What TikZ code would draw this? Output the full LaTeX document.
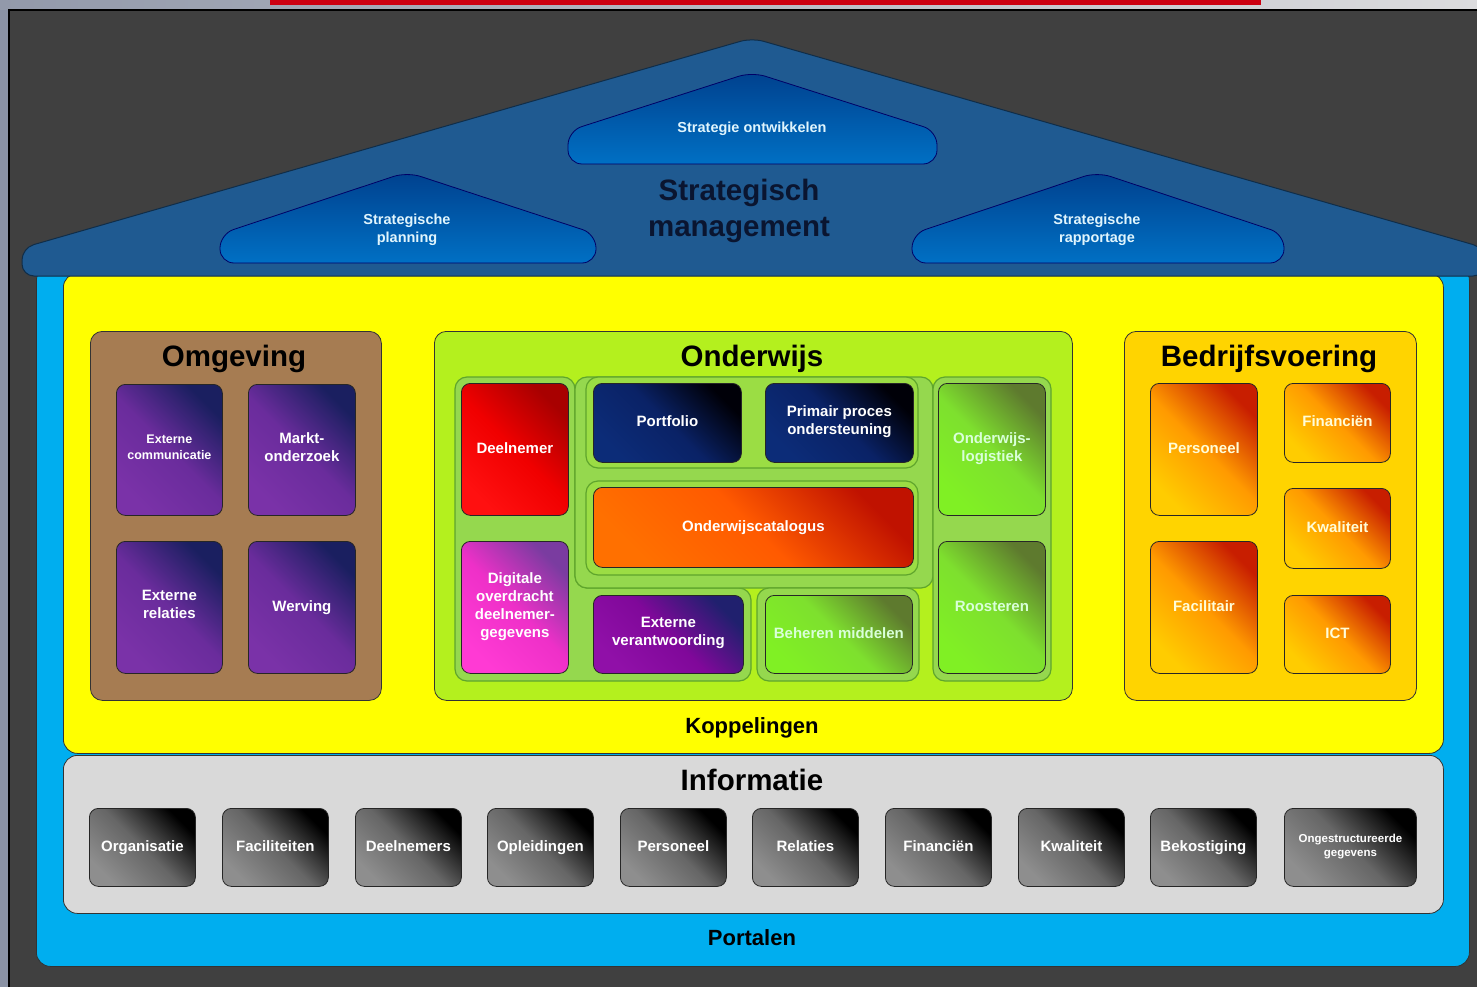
\documentclass[tikz,border=0pt]{standalone}
\usepackage{fontspec}
\setmainfont{Liberation Sans}
\definecolor{bgdark}{HTML}{404040}
\definecolor{redbar}{HTML}{CC0011}
\definecolor{roofblue}{HTML}{1F5A91}
\definecolor{tribluetop}{HTML}{00418E}
\definecolor{tribluebot}{HTML}{0070C4}
\definecolor{portal}{HTML}{00AEEF}
\definecolor{koppel}{HTML}{FFFF00}
\definecolor{infogray}{HTML}{D9D9D9}
\definecolor{omgfill}{HTML}{A67C52}
\definecolor{ondfill}{HTML}{B4F01E}
\definecolor{bedfill}{HTML}{FFD400}
\definecolor{grpfill}{HTML}{95D84E}
\definecolor{grpline}{HTML}{5FA52C}
\definecolor{mgmt}{HTML}{0A1530}
\definecolor{stripL}{HTML}{8A92A4}
\definecolor{stripA}{HTML}{9299AA}
\definecolor{stripB}{HTML}{DCDCDE}
\definecolor{purT}{HTML}{1A1F60}\definecolor{purB}{HTML}{7A32A8}\definecolor{purM}{HTML}{6A2C9C}
\definecolor{orT}{HTML}{C81E00}\definecolor{orB}{HTML}{FFCC00}\definecolor{orM}{HTML}{FF9A00}
\definecolor{grT}{HTML}{5E7A2E}\definecolor{grB}{HTML}{80F024}\definecolor{grM}{HTML}{7EE02E}
\definecolor{inT}{HTML}{000000}\definecolor{inB}{HTML}{8E8E8E}\definecolor{inM}{HTML}{666666}
\definecolor{rdT}{HTML}{A80000}\definecolor{rdB}{HTML}{FF1010}\definecolor{rdM}{HTML}{F00000}
\definecolor{mgT}{HTML}{7A3CA0}\definecolor{mgB}{HTML}{FF3AD4}\definecolor{mgM}{HTML}{EE30C8}
\definecolor{nvT}{HTML}{000008}\definecolor{nvB}{HTML}{0C2C78}\definecolor{nvM}{HTML}{0A2266}
\definecolor{ocT}{HTML}{C01200}\definecolor{ocB}{HTML}{FF7000}\definecolor{ocM}{HTML}{FF5A00}
\definecolor{evT}{HTML}{20206E}\definecolor{evB}{HTML}{9010A8}\definecolor{evM}{HTML}{80089A}
\begin{document}
\begin{tikzpicture}[x=1pt,y=-1pt,
  bx/.style={draw=black!85, line width=0.8pt, rounded corners=9pt, anchor=north west, align=center, inner sep=1pt, text=white, font=\bfseries\fontsize{15}{18}\selectfont, execute at begin node=\strut, execute at end node=\strut},
  g3/.style n args={3}{top color=#1, bottom color=#2, middle color=#3, shading angle=-45},
  ttl/.style={font=\bfseries\fontsize{29.5}{36}\selectfont, text=black, align=center},
  subttl/.style={font=\bfseries\fontsize{22}{26}\selectfont, text=black},
  panel/.style={draw=black!80, line width=0.8pt, rounded corners=14pt, anchor=north west, inner sep=0pt},
  grp/.style={draw=grpline, fill=grpfill, line width=1.2pt, rounded corners=12pt},
  roofsub/.style={draw=black!60!blue, line width=0.8pt, rounded corners=14pt, top color=tribluetop, bottom color=tribluebot},
  rooftxt/.style={text=white!88!cyan, font=\bfseries\fontsize{14.5}{18}\selectfont, align=center},
  purp/.style={g3={purT}{purB}{purM}},
  orng/.style={g3={orT}{orB}{orM}},
  grn/.style={g3={grT}{grB}{grM}, text=white!85!green},
  info/.style={g3={inT}{inB}{inM}, minimum width=106pt, minimum height=78pt}
]
\useasboundingbox (0,0) rectangle (1477,987);
% background
\fill[bgdark] (0,0) rectangle (1477,987);
\fill[stripL] (0,0) rectangle (9,987);
\shade[left color=stripA, right color=stripB] (0,0) rectangle (1477,10);
\fill[redbar] (270,0) rectangle (1261,5);
\draw[black, line width=1.5pt] (9,987) -- (9,10) -- (1477,10);

% panels
\node[panel, fill=portal, minimum width=1433pt, minimum height=700pt] (portal) at (36,266) {};
\node[panel, fill=koppel, minimum width=1380pt, minimum height=480pt] (koppel) at (63,273) {};
\node[panel, fill=infogray, minimum width=1380pt, minimum height=158pt] (info) at (63,755) {};

% roof
\draw[roofblue!50!black, line width=1pt, fill=roofblue, rounded corners=12pt]
  (22,276) -- (22,248) -- (752,38) -- (1485,248) -- (1485,276) -- cycle;
\draw[roofsub] (568,164) -- (568,131) -- (752,72) -- (937,131) -- (937,164) -- cycle;
\draw[roofsub] (220,263) -- (220,234) -- (407,172) -- (596,234) -- (596,263) -- cycle;
\draw[roofsub] (912,263) -- (912,234) -- (1097,172) -- (1284,234) -- (1284,263) -- cycle;
\node[rooftxt] (strat) at (752,129) {Strategie ontwikkelen};
\node[rooftxt] (plan) at (407,230) {Strategische\\planning};
\node[rooftxt] (rapp) at (1097,230) {Strategische\\rapportage};
\node[ttl, text=mgmt] (mgmt) at (739,211) {Strategisch\\management};

% labels of panels
\node[subttl, anchor=base] (koppelT) at (752,733) {Koppelingen};
\node[subttl, anchor=base] (portalT) at (752,945) {Portalen};
\node[ttl, anchor=base] (infoT) at (752,790) {Informatie};

% Omgeving
\node[panel, fill=omgfill, rounded corners=12pt, minimum width=291pt, minimum height=369pt] (omg) at (90,331) {};
\node[ttl, anchor=base] (omgT) at (234,366) {Omgeving};
\node[bx, purp, minimum width=106pt, minimum height=131pt, font=\bfseries\fontsize{12.5}{16}\selectfont] (extcom) at (116,384) {Externe\\communicatie};
\node[bx, purp, minimum width=107pt, minimum height=131pt] (markt) at (248,384) {Markt-\\onderzoek};
\node[bx, purp, minimum width=106pt, minimum height=132pt] (extrel) at (116,541) {Externe\\relaties};
\node[bx, purp, minimum width=107pt, minimum height=132pt] (werving) at (248,541) {Werving};

% Onderwijs
\node[panel, fill=ondfill, rounded corners=12pt, minimum width=638pt, minimum height=369pt] (ond) at (434,331) {};
\node[ttl, anchor=base] (ondT) at (752,366) {Onderwijs};
\draw[grp] (455,377) -- (575,377) -- (575,588) -- (751,588) -- (751,681) -- (455,681) -- cycle;
\draw[grp] (575,377) rectangle (933,588);
\draw[grp, fill=grpfill!80!ondfill] (586,377) rectangle (918,468);
\draw[grp, fill=grpfill!80!ondfill] (586,481) rectangle (918,575);
\draw[grp] (757,588) rectangle (919,681);
\draw[grp] (933,377) rectangle (1051,681);
\node[bx, g3={rdT}{rdB}{rdM}, minimum width=107pt, minimum height=132pt] (deeln) at (461,383) {Deelnemer};
\node[bx, g3={mgT}{mgB}{mgM}, minimum width=107pt, minimum height=132pt] (digit) at (461,541) {Digitale\\overdracht\\deelnemer-\\gegevens};
\node[bx, g3={nvT}{nvB}{nvM}, minimum width=148pt, minimum height=79pt] (portf) at (593,383) {Portfolio};
\node[bx, g3={nvT}{nvB}{nvM}, minimum width=148pt, minimum height=79pt] (primair) at (765,383) {Primair proces\\ondersteuning};
\node[bx, g3={ocT}{ocB}{ocM}, minimum width=320pt, minimum height=80pt] (catal) at (593,487) {Onderwijscatalogus};
\node[bx, g3={evT}{evB}{evM}, minimum width=150pt, minimum height=78pt] (extver) at (593,595) {Externe\\verantwoording};
\node[bx, grn, minimum width=147pt, minimum height=78pt] (beheer) at (765,595) {Beheren middelen};
\node[bx, grn, minimum width=107pt, minimum height=132pt] (logist) at (938,383) {Onderwijs-\\logistiek};
\node[bx, grn, minimum width=107pt, minimum height=132pt] (rooster) at (938,541) {Roosteren};

% Bedrijfsvoering
\node[panel, fill=bedfill, rounded corners=12pt, minimum width=292pt, minimum height=369pt] (bed) at (1124,331) {};
\node[ttl, anchor=base] (bedT) at (1269,366) {Bedrijfsvoering};
\node[bx, orng, text=white!85!yellow, minimum width=107pt, minimum height=132pt] (pers) at (1150,383) {Personeel};
\node[bx, orng, text=white!85!yellow, minimum width=106pt, minimum height=79pt] (fin) at (1284,383) {Financiën};
\node[bx, orng, text=white!85!yellow, minimum width=106pt, minimum height=80pt] (kwal) at (1284,488) {Kwaliteit};
\node[bx, orng, text=white!85!yellow, minimum width=107pt, minimum height=132pt] (facil) at (1150,541) {Facilitair};
\node[bx, orng, text=white!85!yellow, minimum width=106pt, minimum height=78pt] (ict) at (1284,595) {ICT};

% Informatie
\node[bx, info] (i1) at (89,808) {Organisatie};
\node[bx, info] (i2) at (222,808) {Faciliteiten};
\node[bx, info] (i3) at (355,808) {Deelnemers};
\node[bx, info] (i4) at (487,808) {Opleidingen};
\node[bx, info] (i5) at (620,808) {Personeel};
\node[bx, info] (i6) at (752,808) {Relaties};
\node[bx, info] (i7) at (885,808) {Financiën};
\node[bx, info] (i8) at (1018,808) {Kwaliteit};
\node[bx, info] (i9) at (1150,808) {Bekostiging};
\node[bx, info, minimum width=132pt, font=\bfseries\fontsize{11.5}{14}\selectfont] (i10) at (1284,808) {Ongestructureerde\\gegevens};
\end{tikzpicture}
\end{document}
